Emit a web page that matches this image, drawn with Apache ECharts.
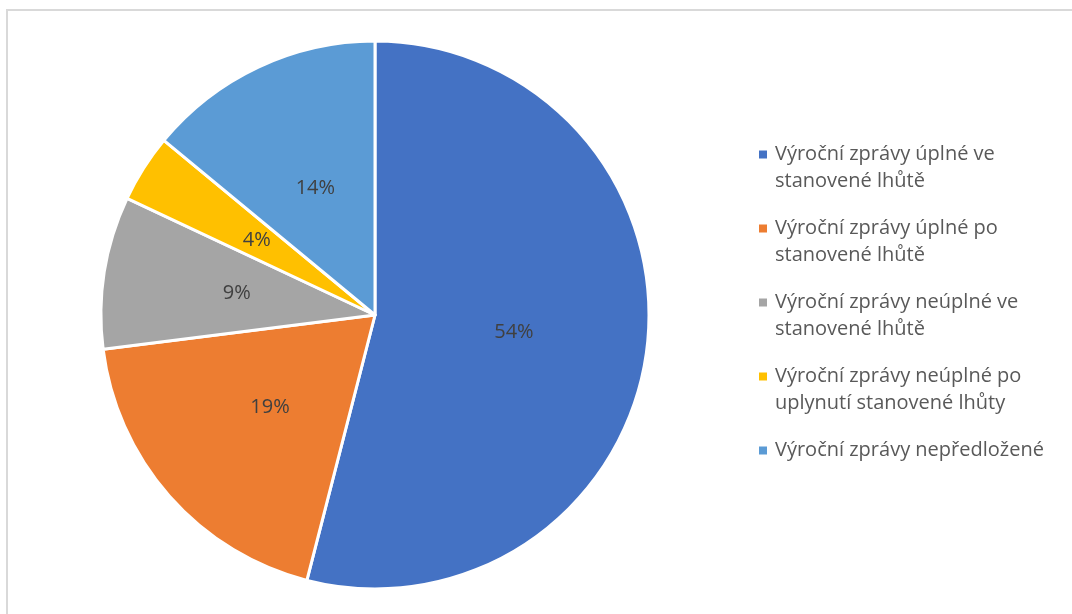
<!DOCTYPE html>
<html>
<head>
<meta charset="utf-8">
<script src="https://cdn.jsdelivr.net/npm/echarts@6/dist/echarts.min.js"></script>
<style>
  html, body { margin: 0; padding: 0; background: #fff; }
  #chart { width: 1072px; height: 614px; }
</style>
</head>
<body>
<div id="chart"></div>
<script>
var categories = [
  'Výroční zprávy úplné ve stanovené lhůtě',
  'Výroční zprávy úplné po stanovené lhůtě',
  'Výroční zprávy neúplné ve stanovené lhůtě',
  'Výroční zprávy neúplné po uplynutí stanovené lhůty',
  'Výroční zprávy nepředložené'
];
var values = [54, 19, 9, 4, 14];
var legendLines = [
  ['Výroční zprávy úplné ve', 'stanovené lhůtě'],
  ['Výroční zprávy úplné po', 'stanovené lhůtě'],
  ['Výroční zprávy neúplné ve', 'stanovené lhůtě'],
  ['Výroční zprávy neúplné po', 'uplynutí stanovené lhůty'],
  ['Výroční zprávy nepředložené', ' ']
];
var colors = ['#4472C4', '#ED7D31', '#A5A5A5', '#FFC000', '#5B9BD5'];

var chart = echarts.init(document.getElementById('chart'));

var pieData = categories.map(function (name, i) {
  return { name: name, value: values[i] };
});

// legend markers are drawn as rich text so they sit on the first line
var rich = {
  gap: { width: 8 },
  ind: { width: 16 }
};
colors.forEach(function (c, i) {
  rich['sq' + i] = { width: 8, height: 8, backgroundColor: c };
});

var option = {
  animation: false,
  color: colors,
  graphic: [{
    type: 'rect',
    shape: { x: 7, y: 10, width: 1070, height: 700 },
    style: { fill: 'none', stroke: '#d9d9d9', lineWidth: 2 },
    silent: true
  }],
  legend: {
    orient: 'vertical',
    left: 754,
    top: 141,
    padding: 0,
    icon: 'none',
    itemWidth: 0,
    itemHeight: 8,
    itemGap: 20,
    data: categories,
    formatter: function (name) {
      var i = categories.indexOf(name);
      var l = legendLines[i];
      return '{sq' + i + '|}{gap|}' + l[0] + '\n{ind|}' + l[1];
    },
    textStyle: {
      fontFamily: 'Open Sans',
      fontSize: 20,
      lineHeight: 27,
      color: '#595959',
      rich: rich
    }
  },
  series: [{
    type: 'pie',
    center: [375, 315],
    radius: 274,
    startAngle: 90,
    clockwise: true,
    data: pieData,
    itemStyle: { borderColor: '#fff', borderWidth: 3 },
    label: {
      position: 'inside',
      formatter: '{c}%',
      fontFamily: 'Open Sans',
      fontSize: 20,
      color: '#404040'
    },
    labelLine: { show: false },
    emphasis: { disabled: true }
  }]
};

chart.setOption(option);
</script>
</body>
</html>
